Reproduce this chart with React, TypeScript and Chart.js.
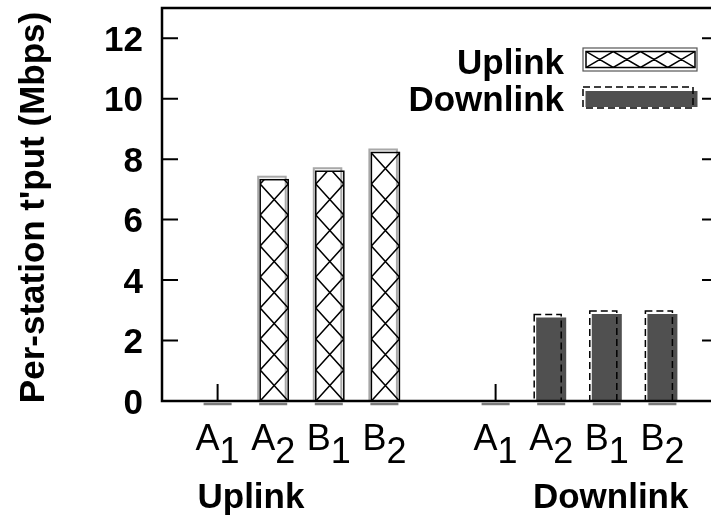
import React, { useEffect, useRef } from 'react';
import { Chart, registerables } from 'chart.js';

Chart.register(...registerables);

// ---- data ----
const STATIONS = ['A_1', 'A_2', 'B_1', 'B_2'];
const GROUPS = ['Uplink', 'Downlink'];
const UPLINK = [0, 7.37, 7.65, 8.27];
const DOWNLINK = [0, 2.76, 2.88, 2.88];
const Y_TICKS = [0, 2, 4, 6, 8, 10, 12];
const Y_MAX = 13;
const Y_TITLE = "Per-station t'put (Mbps)";
const LEGEND = ['Uplink', 'Downlink'];

// slot layout: empty slot, 4 uplink stations, empty, 4 downlink stations, empty
const SLOTS = ['', ...STATIONS, '', ...STATIONS, ''];
const UP_DATA = [null, ...UPLINK, null, null, null, null, null, null];
const DOWN_DATA = [null, null, null, null, null, null, ...DOWNLINK, null];
const GROUP_LABEL_AT = [1.6, 8.07];

const FONT = '"Liberation Sans", Arial, Helvetica, sans-serif';
const DOWN_FILL = '#505050';

function hatchX(ctx: CanvasRenderingContext2D, L: number, T: number, R: number, B: number, cellW: number, cellH: number) {
  if (B - T <= 0.5) return;
  ctx.save();
  ctx.beginPath();
  ctx.rect(L, T, R - L, B - T);
  ctx.clip();
  ctx.beginPath();
  for (let cx = L; cx < R - 0.5; cx += cellW) {
    for (let y0 = B; y0 > T - cellH; y0 -= cellH) {
      ctx.moveTo(cx, y0);
      ctx.lineTo(cx + cellW, y0 - cellH);
      ctx.moveTo(cx + cellW, y0);
      ctx.lineTo(cx, y0 - cellH);
    }
  }
  ctx.strokeStyle = '#000';
  ctx.lineWidth = 1.5;
  ctx.stroke();
  ctx.restore();
}

const gnuplotLook = {
  id: 'gnuplotLook',
  beforeDatasetsDraw(chart: any) {
    const { ctx, chartArea: a, scales } = chart;
    const x = scales.x;
    ctx.save();
    ctx.strokeStyle = '#000';
    ctx.lineWidth = 2;
    SLOTS.forEach((lab, i) => {
      if (!lab) return;
      const px = x.getPixelForValue(i);
      ctx.beginPath();
      ctx.moveTo(px, a.bottom);
      ctx.lineTo(px, a.bottom - 17);
      ctx.stroke();
    });
    ctx.restore();
  },
  afterDatasetsDraw(chart: any) {
    const { ctx, chartArea: a, scales } = chart;
    const x = scales.x;
    const y = scales.y;
    ctx.save();

    // ---- bar decorations ----
    chart.data.datasets.forEach((ds: any, di: number) => {
      const meta = chart.getDatasetMeta(di);
      meta.data.forEach((el: any, i: number) => {
        const v = ds.data[i];
        if (v === null || v === undefined) return;
        const L = el.x - el.width / 2;
        const R = el.x + el.width / 2;
        const T = el.y;
        const B = el.base;
        // grey mark under the axis
        ctx.strokeStyle = '#7a7a7a';
        ctx.lineWidth = 2.5;
        ctx.setLineDash([]);
        ctx.beginPath();
        ctx.moveTo(L + 1, B + 3);
        ctx.lineTo(R - 1, B + 3);
        ctx.stroke();
        if (B - T < 1) return;
        if (di === 0) {
          ctx.strokeStyle = '#a8a8a8';
          ctx.lineWidth = 2;
          ctx.strokeRect(L, T - 1.5, R - L - 2.5, B - T + 1.5);
          const iL = L + 2;
          const iT = T + 1.5;
          hatchX(ctx, iL, iT, R, B, R - iL, 31);
          ctx.strokeStyle = '#000';
          ctx.lineWidth = 1.5;
          ctx.strokeRect(iL, iT, R - iL, B - iT);
        } else {
          ctx.strokeStyle = '#000';
          ctx.lineWidth = 1.5;
          ctx.setLineDash([7, 4]);
          ctx.strokeRect(L - 2, T - 3, R - L - 3, B - T + 3);
          ctx.setLineDash([]);
        }
      });
    });

    // ---- frame ----
    ctx.setLineDash([]);
    ctx.strokeStyle = '#000';
    ctx.lineWidth = 2.5;
    ctx.strokeRect(a.left, a.top, a.right - a.left, a.bottom - a.top);

    // ---- y ticks (inward, mirrored) + labels ----
    ctx.lineWidth = 2;
    ctx.fillStyle = '#000';
    ctx.font = `bold 35px ${FONT}`;
    ctx.textAlign = 'right';
    ctx.textBaseline = 'alphabetic';
    Y_TICKS.forEach((t) => {
      const py = y.getPixelForValue(t);
      ctx.beginPath();
      ctx.moveTo(a.left, py);
      ctx.lineTo(a.left + 16, py);
      ctx.moveTo(a.right, py);
      ctx.lineTo(a.right - 16, py);
      ctx.stroke();
      ctx.fillText(String(t), 143, py + 12.5);
    });

    // ---- y title ----
    ctx.save();
    ctx.translate(44, (a.top + a.bottom) / 2 + 3);
    ctx.rotate(-Math.PI / 2);
    ctx.textAlign = 'center';
    ctx.font = `bold 35px ${FONT}`;
    ctx.fillText(Y_TITLE, 0, 0);
    ctx.restore();

    // ---- x labels with subscripts ----
    ctx.font = `36px ${FONT}`;
    ctx.textAlign = 'left';
    SLOTS.forEach((lab, i) => {
      if (!lab) return;
      const [main, sub] = lab.split('_');
      const px = x.getPixelForValue(i);
      const wm = ctx.measureText(main).width;
      const ws = ctx.measureText(sub).width;
      const start = px - (wm + ws) / 2;
      ctx.fillText(main, start, 450);
      ctx.fillText(sub, start + wm, 463);
    });

    // ---- group labels ----
    ctx.font = `bold 35px ${FONT}`;
    ctx.textAlign = 'center';
    GROUPS.forEach((g, gi) => {
      ctx.fillText(g, x.getPixelForValue(GROUP_LABEL_AT[gi]), 508);
    });

    // ---- legend ----
    const bx = a.right - 135;
    const bw = 112;
    ctx.textAlign = 'right';
    ctx.font = `bold 35px ${FONT}`;
    ctx.fillText(LEGEND[0], a.right - 154, 74);
    ctx.fillText(LEGEND[1], a.right - 154, 111);
    // uplink sample
    ctx.strokeStyle = '#555';
    ctx.lineWidth = 1.2;
    ctx.strokeRect(bx, 48, bw + 2, 23);
    hatchX(ctx, bx + 3, 51.5, bx + bw, 67.5, (bw - 3) / 4, 16);
    ctx.strokeStyle = '#000';
    ctx.lineWidth = 1.5;
    ctx.strokeRect(bx + 3, 51.5, bw - 3, 16);
    // downlink sample
    ctx.fillStyle = DOWN_FILL;
    ctx.fillRect(bx + 2.5, 91, bw, 16);
    ctx.setLineDash([7, 4]);
    ctx.strokeStyle = '#000';
    ctx.lineWidth = 1.5;
    ctx.strokeRect(bx, 87, bw - 2, 21);
    ctx.setLineDash([]);

    ctx.restore();
  },
};

export default function App() {
  const ref = useRef<HTMLCanvasElement>(null);
  useEffect(() => {
    const chart = new Chart(ref.current as HTMLCanvasElement, {
      type: 'bar',
      data: {
        labels: SLOTS,
        datasets: [
          {
            label: GROUPS[0],
            data: UP_DATA as any,
            backgroundColor: '#ffffff',
            borderWidth: 0,
            grouped: false,
            categoryPercentage: 0.54,
            barPercentage: 1,
          } as any,
          {
            label: GROUPS[1],
            data: DOWN_DATA as any,
            backgroundColor: DOWN_FILL,
            borderWidth: 0,
            grouped: false,
            categoryPercentage: 0.54,
            barPercentage: 1,
          } as any,
        ],
      },
      options: {
        responsive: false,
        animation: false,
        devicePixelRatio: 1,
        layout: { padding: { left: 162, right: 22, top: 8, bottom: 117 } },
        scales: {
          x: { type: 'category', display: false, offset: false },
          y: { type: 'linear', display: false, min: 0, max: Y_MAX },
        },
        plugins: {
          legend: { display: false },
          tooltip: { enabled: false },
          title: { display: false },
        },
      },
      plugins: [gnuplotLook],
    } as any);
    return () => chart.destroy();
  }, []);
  return (
    <div
      style={{
        position: 'fixed',
        left: 0,
        top: 0,
        width: 711,
        height: 518,
        overflow: 'hidden',
        background: '#fff',
      }}
    >
      <canvas ref={ref} width={740} height={518} style={{ display: 'block', width: 740, height: 518 }} />
    </div>
  );
}
